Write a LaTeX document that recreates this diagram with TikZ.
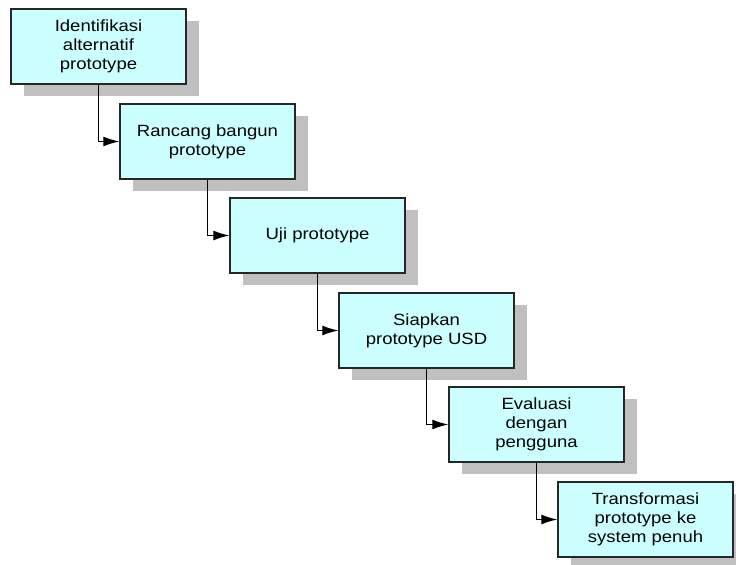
\documentclass[tikz,border=0pt]{standalone}
\usepackage{fontspec}
\setmainfont{Liberation Sans}[FakeStretch=1.14]
\usetikzlibrary{arrows.meta}
\definecolor{kotak}{HTML}{CCFFFF}
\definecolor{bayang}{HTML}{C0C0C0}
\tikzset{
  tahap/.style={draw=black!85, line width=1.5bp, fill=kotak, minimum width=175bp,
    minimum height=75bp, inner sep=0pt, align=center,
    font=\fontsize{16.3}{19.2}\selectfont,
    preaction={fill=bayang, draw=none, transform canvas={xshift=13bp, yshift=-12bp}}},
  alur/.style={-{Latex[length=16bp,width=10bp]}, line width=1.2bp}
}
\begin{document}
\begin{tikzpicture}[x=1bp,y=-1bp]
        \useasboundingbox (0,0) rectangle (736,565);
        % tahapan prototype
        \node[tahap] (identifikasi) at (98.5,46.5) {Identifikasi\\alternatif\\prototype};
        \node[tahap] (rancang) at (207.5,141.5) {Rancang bangun\\prototype};
        \node[tahap] (uji) at (317.5,235.5) {Uji prototype};
        \node[tahap] (siapkan) at (426.5,330.5) {Siapkan\\prototype USD};
        \node[tahap] (evaluasi) at (536.5,424.5) {Evaluasi\\dengan\\pengguna};
        \node[tahap] (transformasi) at (645.5,519.5) {Transformasi\\prototype ke\\system penuh};
        % panah antar tahap
        \draw[alur] (identifikasi.south) |- (rancang.west);
        \draw[alur] (rancang.south) |- (uji.west);
        \draw[alur] (uji.south) |- (siapkan.west);
        \draw[alur] (siapkan.south) |- (evaluasi.west);
        \draw[alur] (evaluasi.south) |- (transformasi.west);
    \end{tikzpicture}
\end{document}
